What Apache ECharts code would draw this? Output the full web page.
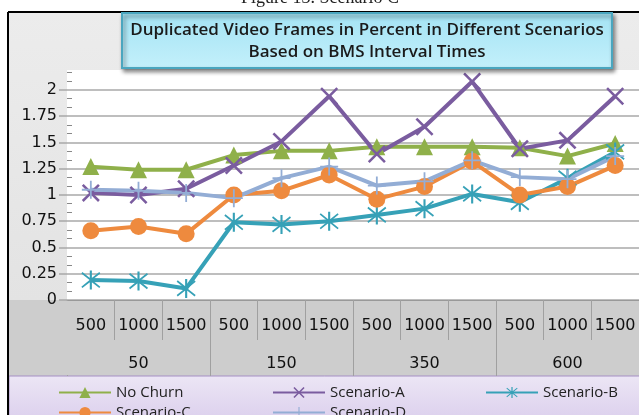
<!DOCTYPE html>
<html><head><meta charset="utf-8">
<script src="https://cdn.jsdelivr.net/npm/echarts@6/dist/echarts.min.js"></script>
<style>html,body{margin:0;padding:0;background:#fff;overflow:hidden}#c{width:639px;height:415px}</style>
</head><body><div id="c"></div>
<script>
const categories = ['500','1000','1500','500','1000','1500','500','1000','1500','500','1000','1500'];
const groups = ['50','150','350','600'];
const yTicks = [0,0.25,0.5,0.75,1,1.25,1.5,1.75,2];
const noChurn   = [1.27,1.24,1.24,1.38,1.42,1.42,1.46,1.46,1.46,1.45,1.37,1.49];
const scenarioA = [1.02,1.00,1.06,1.28,1.51,1.94,1.39,1.65,2.08,1.44,1.52,1.94];
const scenarioB = [0.19,0.18,0.11,0.74,0.72,0.75,0.81,0.87,1.01,0.93,1.16,1.41];
const scenarioC = [0.66,0.70,0.63,1.00,1.04,1.19,0.96,1.08,1.32,1.00,1.08,1.28];
const scenarioD = [1.05,1.04,1.02,0.97,1.16,1.27,1.09,1.13,1.33,1.17,1.15,1.37];
const seriesNames = ['No Churn','Scenario-A','Scenario-B','Scenario-C','Scenario-D'];

const X_PATH = 'path://M0,2L2,0L10,8L18,0L20,2L12,10L20,18L18,20L10,12L2,20L0,18L8,10Z';
const PLUS_PATH = 'path://M9,0H11V9H20V11H11V20H9V11H0V9H9Z';
const AST_PATH = 'path://M9,0H11V20H9Z M1,3L2,1.5L10,8.6L18,1.5L19,3L11.2,10L19,17L18,18.5L10,11.4L2,18.5L1,17L8.8,10Z';

const chart = echarts.init(document.getElementById('c'), null, {renderer:'canvas'});
const LBL = '"DejaVu Sans", sans-serif';
const SANS = '"Open Sans", sans-serif';

function mk(name, data, color, symbol, size){
  return {name, type:'line', data, symbol, symbolSize:size,
    lineStyle:{color, width:4}, itemStyle:{color}, emphasis:{disabled:true}, animation:false};
}
function lg(name, left, top){
  return {data:[name], left, top, itemWidth:52, itemHeight:14, itemGap:0,
    textStyle:{fontFamily:SANS, fontSize:15, color:'#222'}, selectedMode:false};
}
const yCommon = {type:'value', min:0, max:2.19, interval:0.25, position:'left'};

chart.setOption({
  animation:false,
  backgroundColor:'#ffffff',
  graphic:[
    {type:'rect', z:-10, shape:{x:8,y:12,width:700,height:450},
      style:{fill:new echarts.graphic.LinearGradient(0,0,0,1,[{offset:0,color:'#ececec'},{offset:1,color:'#dedede'}])}},
    {type:'rect', z:-9, shape:{x:67,y:70,width:700,height:230}, style:{fill:'#ffffff'}},
    {type:'rect', z:-9, shape:{x:9,y:300,width:700,height:76}, style:{fill:'#cdcdcd'}},
    {type:'rect', z:-9, shape:{x:9,y:376,width:700,height:60},
      style:{fill:new echarts.graphic.LinearGradient(0,0,0,1,[{offset:0,color:'#ece6f5'},{offset:1,color:'#d6c8ea'}]), stroke:'#a58fc4', lineWidth:1}},
    {type:'line', z:30, shape:{x1:8,y1:12,x2:700,y2:12}, style:{stroke:'#000', lineWidth:2}},
    {type:'line', z:30, shape:{x1:8,y1:12,x2:8,y2:420}, style:{stroke:'#000', lineWidth:2}},
    {type:'rect', z:20, shape:{x:65,y:301,width:4,height:74}, style:{fill:'#cdcdcd'}},
    {type:'text', z:5, style:{text:'Figure 13. Scenario C', x:320, y:-11, align:'center', verticalAlign:'top', font:'18px "Liberation Serif", serif', fill:'#222'}},
    {type:'rect', z:50, shape:{x:122,y:13,width:490,height:55},
      style:{fill:new echarts.graphic.LinearGradient(0,0,0,1,[{offset:0,color:'#a3e3f4'},{offset:1,color:'#c4f0fb'}]), stroke:'#4aa6bf', lineWidth:2,
        shadowBlur:4, shadowOffsetX:2, shadowOffsetY:3, shadowColor:'rgba(0,0,0,0.45)'}},
    {type:'text', z:51, style:{text:'Duplicated Video Frames in Percent in Different Scenarios\nBased on BMS Interval Times', x:367, y:41, align:'center', verticalAlign:'middle', lineHeight:22, font:'600 17px "Open Sans", sans-serif', fill:'#1a1a1a'}}
  ],
  grid:{left:67, right:0, top:70, bottom:115, show:false},
  xAxis:[
    {type:'category', data:categories, position:'bottom',
      axisLine:{show:true, lineStyle:{color:'#999', width:1}},
      axisTick:{show:true, interval:0, length:40, lineStyle:{color:'#a0a0a0'}},
      axisLabel:{interval:0, margin:18, fontFamily:LBL, fontSize:16, color:'#111'},
      splitLine:{show:false}},
    {type:'category', data:groups, position:'bottom',
      axisLine:{show:false},
      axisTick:{show:true, interval:0, length:76, lineStyle:{color:'#a0a0a0'}},
      axisLabel:{interval:0, margin:56, fontFamily:LBL, fontSize:16, color:'#111'},
      splitLine:{show:false}}
  ],
  yAxis:[
    Object.assign({}, yCommon, {
      axisLine:{show:false},
      axisTick:{show:true, length:8, lineStyle:{color:'#a8a8a8', width:1.5}},
      minorTick:{show:false},
      axisLabel:{showMaxLabel:false, margin:10, fontFamily:LBL, fontSize:16, color:'#111',
        formatter:v=> yTicks.indexOf(Math.round(v*100)/100) >= 0 ? String(Math.round(v*100)/100) : ''},
      splitLine:{show:true, showMaxLine:false, lineStyle:{color:'#a8a8a8', width:1.5}}}),
    Object.assign({}, yCommon, {
      axisLine:{show:false},
      axisTick:{show:false, inside:true},
      minorTick:{show:true, splitNumber:3, length:5, lineStyle:{color:'#888'}},
      axisLabel:{show:false},
      splitLine:{show:false}})
  ],
  legend:[
    lg(seriesNames[0], 53, 380), lg(seriesNames[1], 267, 380), lg(seriesNames[2], 480, 380),
    lg(seriesNames[3], 53, 400), lg(seriesNames[4], 267, 400)
  ],
  series:[
    mk(seriesNames[0], noChurn, '#8fb04a', 'triangle', 17),
    mk(seriesNames[1], scenarioA, '#7a5c9f', X_PATH, 18),
    mk(seriesNames[2], scenarioB, '#36a1b7', AST_PATH, 19),
    mk(seriesNames[3], scenarioC, '#ee8a3e', 'circle', 17),
    mk(seriesNames[4], scenarioD, '#93add5', PLUS_PATH, 18)
  ]
});
</script></body></html>
